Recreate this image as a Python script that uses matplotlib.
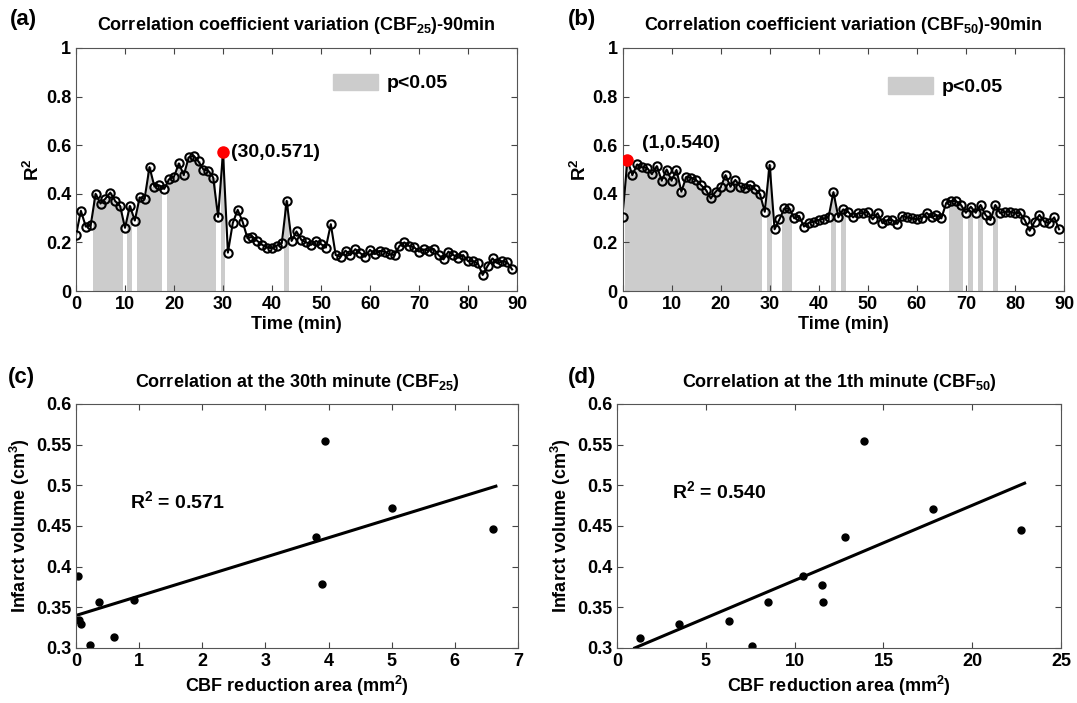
import numpy as np
import matplotlib
matplotlib.use("Agg")
import matplotlib.pyplot as plt
from matplotlib.patches import Patch

plt.rcParams['font.family'] = ['Liberation Sans', 'DejaVu Sans']
plt.rcParams['font.weight'] = 'bold'
plt.rcParams['mathtext.fontset'] = 'custom'
plt.rcParams['mathtext.rm'] = 'Liberation Sans:bold'
plt.rcParams['mathtext.it'] = 'Liberation Sans:bold'
plt.rcParams['mathtext.bf'] = 'Liberation Sans:bold'
plt.rcParams['mathtext.default'] = 'rm'

# ---- data ----
minutes = np.arange(90)

r2_cbf25 = [0.23, 0.33, 0.265, 0.27, 0.40, 0.36, 0.38, 0.405, 0.37, 0.35,
            0.26, 0.35, 0.29, 0.385, 0.38, 0.51, 0.43, 0.435, 0.42, 0.46,
            0.47, 0.525, 0.477, 0.55, 0.557, 0.533, 0.50, 0.495, 0.467, 0.305,
            0.571, 0.158, 0.28, 0.334, 0.285, 0.217, 0.224, 0.206, 0.19, 0.179,
            0.176, 0.187, 0.197, 0.371, 0.206, 0.245, 0.21, 0.20, 0.19, 0.206,
            0.193, 0.179, 0.275, 0.148, 0.141, 0.166, 0.148, 0.172, 0.156, 0.141,
            0.169, 0.152, 0.165, 0.162, 0.151, 0.148, 0.185, 0.20, 0.185, 0.18,
            0.162, 0.171, 0.166, 0.173, 0.148, 0.13, 0.162, 0.148, 0.137, 0.148,
            0.123, 0.123, 0.114, 0.066, 0.103, 0.134, 0.114, 0.123, 0.118, 0.089]
sig_cbf25 = [4, 5, 6, 7, 8, 9, 11, 13, 14, 15, 16, 17,
             19, 20, 21, 22, 23, 24, 25, 26, 27, 28, 30, 43]

r2_cbf50 = [0.305, 0.540, 0.477, 0.521, 0.509, 0.507, 0.481, 0.514, 0.454, 0.50,
            0.454, 0.498, 0.409, 0.47, 0.466, 0.457, 0.436, 0.416, 0.381, 0.409,
            0.426, 0.477, 0.429, 0.457, 0.429, 0.422, 0.436, 0.42, 0.40, 0.326,
            0.519, 0.254, 0.295, 0.34, 0.34, 0.299, 0.309, 0.265, 0.281, 0.285,
            0.292, 0.298, 0.303, 0.407, 0.303, 0.336, 0.326, 0.303, 0.32, 0.32,
            0.326, 0.295, 0.32, 0.279, 0.292, 0.292, 0.276, 0.309, 0.303, 0.299,
            0.295, 0.299, 0.322, 0.303, 0.313, 0.299, 0.363, 0.37, 0.37, 0.354,
            0.322, 0.347, 0.322, 0.354, 0.313, 0.292, 0.354, 0.32, 0.326, 0.326,
            0.32, 0.322, 0.292, 0.248, 0.285, 0.313, 0.285, 0.279, 0.303, 0.254]
sig_cbf50 = list(range(1, 29)) + [30, 33, 34, 43, 45, 67, 68, 69, 71, 73, 76]

peak_a = (30, 0.571)
peak_b = (1, 0.540)

# scatter at the 30th minute (CBF25)
area_c = [0.03, 0.08, 0.05, 0.22, 0.37, 0.60, 0.92, 3.80, 3.89, 3.94, 5.01, 6.60]
vol_c = [0.389, 0.330, 0.334, 0.304, 0.357, 0.313, 0.359, 0.437, 0.379, 0.555, 0.472, 0.446]
fit_c = (0.0239, 0.340)     # slope, intercept
fit_c_range = (0.0, 6.65)

# scatter at the 1st minute (CBF50)
area_d = [1.3, 3.5, 6.3, 7.6, 8.5, 10.47, 11.57, 11.6, 12.83, 13.89, 17.79, 22.75]
vol_d = [0.312, 0.329, 0.333, 0.303, 0.357, 0.388, 0.378, 0.357, 0.4365, 0.555, 0.471, 0.445]
fit_d = (0.00923, 0.2908)
fit_d_range = (1.0, 22.95)

GRAY = '#cccccc'
W, H = 1077, 703
fig = plt.figure(figsize=(W / 100, H / 100), dpi=100)


def box(l, t, r, b):
    return [l / W, 1 - b / H, (r - l) / W, (b - t) / H]


def style(ax):
    ax.tick_params(direction='in', top=True, right=True, labelsize=13,
                   length=4, color='#444444')
    for s in ax.spines.values():
        s.set_color('#555555')
        s.set_linewidth(0.8)


def timecourse(ax, r2, sig, peak, title, label_pos, leg_anchor):
    r2 = np.asarray(r2)
    ax.bar(sig, r2[sig], width=1.0, color=GRAY, edgecolor='none', zorder=1)
    ax.plot(minutes, r2, '-', color='black', lw=1.5, zorder=2)
    ax.plot(minutes, r2, 'o', mfc='none', mec='black', mew=1.5, ms=6, zorder=3)
    ax.plot(*peak, 'o', color='red', ms=8, zorder=4)
    ax.text(label_pos[0], label_pos[1], '(%d,%.3f)' % peak, fontsize=14,
            fontweight='bold', va='center', ha='left')
    ax.set_xlim(0, 90)
    ax.set_ylim(0, 1)
    ax.set_xticks(range(0, 91, 10))
    ax.set_yticks([0, 0.2, 0.4, 0.6, 0.8, 1])
    ax.set_yticklabels(['0', '0.2', '0.4', '0.6', '0.8', '1'])
    ax.set_xlabel('Time (min)', fontsize=13, fontweight='bold', labelpad=2)
    ax.set_ylabel('R$^2$', fontsize=13.5, fontweight='bold', labelpad=2)
    ax.set_title(title, fontsize=13, fontweight='bold', pad=13)
    ax.legend(handles=[Patch(color=GRAY, label='p<0.05')], loc='center left',
              bbox_to_anchor=leg_anchor, frameon=False, fontsize=14,
              handlelength=2.3, handleheight=0.9, handletextpad=0.45,
              borderpad=0, borderaxespad=0)
    style(ax)


def scatter(ax, x, y, fit, fit_range, title, r2_text, text_pos, xlim, xticks):
    ax.plot(x, y, 'o', color='black', ms=5)
    fx = np.array(fit_range)
    ax.plot(fx, fit[0] * fx + fit[1], '-', color='black', lw=2.2)
    ax.text(text_pos[0], text_pos[1], r2_text, fontsize=14, fontweight='bold',
            va='center', ha='left')
    ax.set_xlim(*xlim)
    ax.set_ylim(0.3, 0.6)
    ax.set_xticks(xticks)
    ax.set_yticks([0.3, 0.35, 0.4, 0.45, 0.5, 0.55, 0.6])
    ax.set_yticklabels(['0.3', '0.35', '0.4', '0.45', '0.5', '0.55', '0.6'])
    ax.set_xlabel('CBF reduction area (mm$^2$)', fontsize=13, fontweight='bold', labelpad=3)
    ax.set_ylabel('Infarct volume (cm$^3$)', fontsize=13, fontweight='bold', labelpad=3)
    ax.set_title(title, fontsize=13, fontweight='bold', pad=12)
    style(ax)


ax_a = fig.add_axes(box(76, 48, 517, 291))
timecourse(ax_a, r2_cbf25, sig_cbf25, peak_a,
           'Correlation coefficient variation (CBF$_{25}$)-90min',
           (31.6, 0.572), (0.583, 0.856))

ax_b = fig.add_axes(box(622.5, 48, 1064, 291))
timecourse(ax_b, r2_cbf50, sig_cbf50, peak_b,
           'Correlation coefficient variation (CBF$_{50}$)-90min',
           (4.0, 0.605), (0.601, 0.84))

ax_c = fig.add_axes(box(76, 404, 518, 648))
scatter(ax_c, area_c, vol_c, fit_c, fit_c_range,
        'Correlation at the 30th minute (CBF$_{25}$)', 'R$^2$ = 0.571',
        (0.85, 0.48), (0, 7), range(0, 8))

ax_d = fig.add_axes(box(617, 404, 1061, 648))
scatter(ax_d, area_d, vol_d, fit_d, fit_d_range,
        'Correlation at the 1th minute (CBF$_{50}$)', 'R$^2$ = 0.540',
        (3.1, 0.4926), (0, 25), range(0, 26, 5))

for lab, x, y in [('(a)', 10, 20), ('(b)', 568, 20), ('(c)', 8, 378), ('(d)', 568, 378)]:
    fig.text(x / W, 1 - y / H, lab, fontsize=16, fontweight='bold', va='center', ha='left')

fig.savefig('out.png', dpi=100)
